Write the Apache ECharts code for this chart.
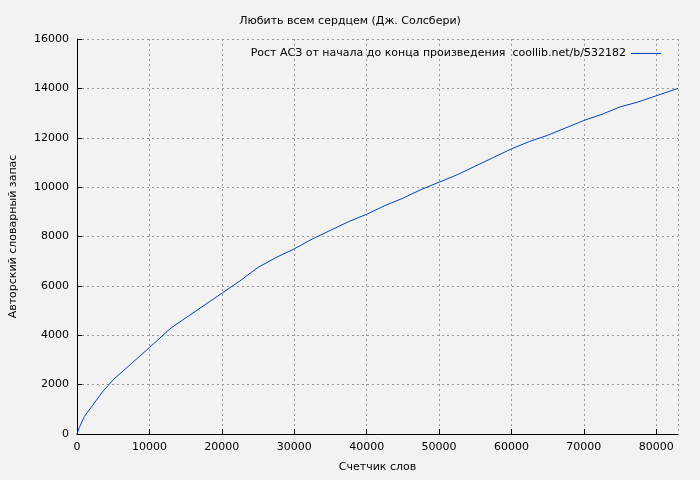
<!DOCTYPE html>
<html><head><meta charset="utf-8">
<script src="https://cdn.jsdelivr.net/npm/echarts@6/dist/echarts.min.js"></script>
<style>html,body{margin:0;background:#f2f2f2}#c{width:700px;height:480px}</style>
</head><body><div id="c"></div>
<script>
const words = [0,300,1000,2000,3500,5000,7500,10000,13000,17000,20000,22500,25000,27500,30000,32500,35000,37500,40000,42500,45000,47500,50000,52500,55000,57500,60000,62500,65000,67500,70000,72500,75000,77500,80000,83000];
const vocab = [0,250,700,1100,1700,2200,2850,3500,4300,5100,5700,6200,6750,7150,7500,7900,8250,8600,8900,9250,9550,9900,10200,10500,10850,11200,11550,11850,12100,12400,12700,12950,13250,13450,13700,14000];
const chart = echarts.init(document.getElementById('c'));
const F = 'DejaVu Sans';
const LN = 'Рост АСЗ от начала до конца произведения  coollib.net/b/532182';
chart.setOption({
  backgroundColor:'#f2f2f2', animation:false,
  textStyle:{fontFamily:F},
  title:{text:'Любить всем сердцем (Дж. Солсбери)',left:'center',top:11,textStyle:{fontSize:11,fontWeight:'normal',color:'#000',fontFamily:F}},
  legend:{right:34,top:43,itemWidth:30,itemHeight:1,itemGap:5,icon:'rect',align:'right',textStyle:{fontSize:11,color:'#000',fontFamily:F},
    data:[{name:LN}]},
  grid:{left:75,right:22,top:39,bottom:46},
  xAxis:{type:'value',min:0,max:83000,interval:10000,name:'Счетчик слов',nameLocation:'middle',nameGap:28,nameTextStyle:{fontSize:11,color:'#000'},
    axisLine:{lineStyle:{color:'#000'}},axisTick:{inside:true,lineStyle:{color:'#000'}},axisLabel:{fontSize:11,color:'#000',showMaxLabel:false,formatter:v=>String(v)},
    splitLine:{lineStyle:{color:'#999',type:[2,3]}}},
  yAxis:{type:'value',min:0,max:16000,interval:2000,name:'Авторский словарный запас',nameLocation:'middle',nameGap:58,nameTextStyle:{fontSize:11,color:'#000'},
    axisLine:{show:true,lineStyle:{color:'#000'}},axisTick:{show:true,inside:true,lineStyle:{color:'#000'}},axisLabel:{fontSize:11,color:'#000',formatter:v=>String(v)},
    splitLine:{lineStyle:{color:'#999',type:[2,3]}}},
  series:[{name:LN,type:'line',showSymbol:false,
    data:words.map((w,i)=>[w,vocab[i]]),lineStyle:{color:'#0044bb',width:1},itemStyle:{color:'#0044bb'}}]
});
</script></body></html>
